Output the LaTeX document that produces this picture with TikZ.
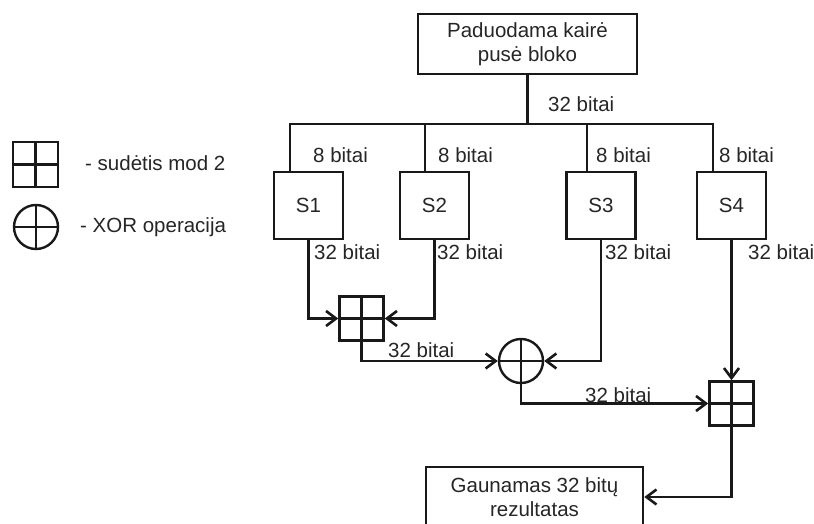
\documentclass[tikz,border=0pt]{standalone}
\usepackage{fontspec}
\setmainfont{Liberation Sans}
\usetikzlibrary{arrows.meta}

\tikzset{
  txt/.style={text=black!85, font=\fontsize{20.5}{24}\selectfont},
  box/.style={draw=black!90, line width=2.6pt, txt, align=center, inner sep=0pt},
  lbl/.style={txt, anchor=west, inner sep=0pt},
  wire/.style={draw=black!90, line width=2.6pt},
  arr/.style={wire, -{Straight Barb[length=10pt,width=15pt,line width=2.6pt]}},
  cross/.style={path picture={
      \draw[line width=2.6pt, black!90] (path picture bounding box.north) -- (path picture bounding box.south);
      \draw[line width=2.6pt, black!90] (path picture bounding box.west) -- (path picture bounding box.east);
    }},
  addsq/.style={draw=black!90, line width=2.6pt, minimum size=44pt, inner sep=0pt, cross},
  xorc/.style={circle, draw=black!90, line width=2.4pt, minimum size=44pt, inner sep=0pt, cross},
}

\begin{document}
\begin{tikzpicture}[x=1pt,y=-1pt]
  \clip (0,0) rectangle (814,524);
  \fill[white] (0,0) rectangle (814,524);

  % input block and bus
  \node[box, minimum width=219pt, minimum height=60pt] (top) at (527.5,44) {Paduodama kairė\\pusė bloko};
  \coordinate (b1) at (290,124);
  \coordinate (b2) at (425,124);
  \coordinate (b3) at (587,124);
  \coordinate (b4) at (713,124);

  % S-blocks
  \node[box, minimum width=69pt, minimum height=67pt] (S1) at (308.5,205.5) {S1};
  \node[box, minimum width=69pt, minimum height=67pt] (S2) at (434.5,205.5) {S2};
  \node[box, minimum width=69pt, minimum height=67pt] (S3) at (601,205.5) {S3};
  \node[box, minimum width=69pt, minimum height=67pt] (S4) at (731.5,205.5) {S4};

  % combining operations
  \node[addsq] (add1) at (361.5,318.5) {};
  \node[xorc] (xor) at (521,361) {};
  \node[addsq] (add2) at (731.5,403.5) {};

  % result block
  \node[box, minimum width=217pt, minimum height=60pt] (res) at (534.5,497) {Gaunamas 32 bitų\\rezultatas};

  % wiring
  \draw[wire] (top.south) -- (top.south |- b1);
  \draw[wire, line cap=rect] (b1) -- (b4);
  \draw[wire] (b1) -- (b1 |- S1.north);
  \draw[wire] (b2) -- (b2 |- S2.north);
  \draw[wire] (b3) -- (b3 |- S3.north);
  \draw[wire] (b4) -- (b4 |- S4.north);

  \draw[arr] (S1.south) |- (add1.west);
  \draw[arr] (S2.south) |- (add1.east);
  \draw[arr] (add1.south) |- (xor.west);
  \draw[arr] (S3.south) |- (xor.east);
  \draw[arr] (xor.south) |- (add2.west);
  \draw[arr] (S4.south) -- (add2.north);
  \draw[arr] (add2.south) |- (res.east);

  % bit widths
  \node[lbl] (l0) at (548,104) {32 bitai};
  \node[lbl] (l1) at (313,155) {8 bitai};
  \node[lbl] (l2) at (438,155) {8 bitai};
  \node[lbl] (l3) at (596,155) {8 bitai};
  \node[lbl] (l4) at (719,155) {8 bitai};
  \node[lbl] (o1) at (314,252) {32 bitai};
  \node[lbl] (o2) at (437,252) {32 bitai};
  \node[lbl] (o3) at (605,252) {32 bitai};
  \node[lbl] (o4) at (748,252) {32 bitai};
  \node[lbl] (o5) at (388,350) {32 bitai};
  \node[lbl] (o6) at (585,395) {32 bitai};

  % legend
  \node[addsq, minimum size=45pt] (leg1) at (35.5,164.5) {};
  \node[lbl] (legt1) at (85,163) {- sudėtis mod 2};
  \node[xorc] (leg2) at (36,227) {};
  \node[lbl] (legt2) at (80,227) {- XOR operacija};
\end{tikzpicture}
\end{document}
